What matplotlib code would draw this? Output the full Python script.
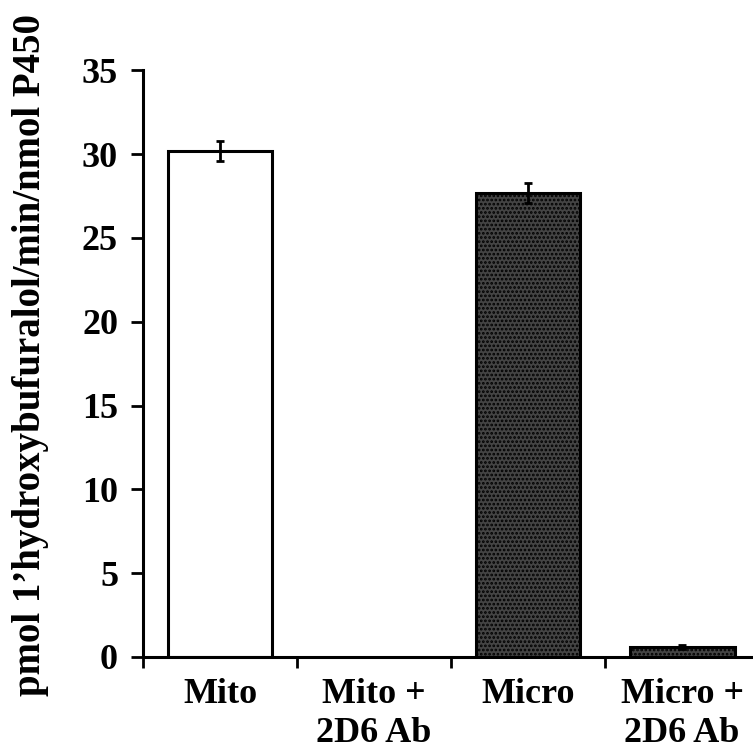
import matplotlib
matplotlib.use("Agg")
from matplotlib import pyplot as plt
import numpy as np

# data
categories = ["Mito", "Mito +\n2D6 Ab", "Micro", "Micro +\n2D6 Ab"]
rates = [30.2, 0.0, 27.7, 0.6]
errors = [0.6, 0.0, 0.6, 0.1]
y_ticks = [0, 5, 10, 15, 20, 25, 30, 35]

plt.rcParams['font.family'] = ['Liberation Serif', 'DejaVu Serif']
plt.rcParams['font.weight'] = 'bold'
plt.rcParams['hatch.linewidth'] = 1.3

fig = plt.figure(figsize=(7.53, 7.56), dpi=100)
ax = fig.add_axes([0.19, 0.131, 0.81, 0.776])

x = np.arange(len(categories))
face = ['white', 'white', '#444444', '#444444']
hatch = [None, None, '....', '....']
for i in x:
    if rates[i] <= 0:
        continue
    ax.bar(x[i], rates[i], width=0.68, color=face[i], edgecolor='black',
           linewidth=2.2, hatch=hatch[i], zorder=2)
    ax.errorbar(x[i], rates[i], yerr=errors[i], fmt='none', ecolor='black',
                elinewidth=2, capsize=3, capthick=2, zorder=3)

ax.set_xlim(-0.5, 3.46)
ax.set_ylim(0, 35)
ax.set_yticks(y_ticks)
ax.set_yticklabels([str(v) for v in y_ticks], fontsize=26, fontweight='bold')

# category ticks sit on the boundaries, labels in between
ax.set_xticks([-0.5, 0.5, 1.5, 2.5])
ax.set_xticklabels([])
ax.set_xticks(x, minor=True)
ax.set_xticklabels(categories, minor=True, fontsize=26, fontweight='bold',
                   linespacing=1.25, va='top')
ax.tick_params(axis='x', which='minor', length=0, pad=15)
ax.tick_params(axis='x', which='major', direction='out', length=8, width=2)
ax.tick_params(axis='y', direction='out', length=9, width=2, pad=9)

ax.spines['top'].set_visible(False)  # 去掉上边框
ax.spines['right'].set_visible(False)  # 去掉右边框
ax.spines['left'].set_linewidth(2.2)
ax.spines['bottom'].set_linewidth(2.2)

fig.text(0.04, 0.53, "pmol 1\u2019hydroxybufuralol/min/nmol P450", rotation=90,
         ha='center', va='center', fontsize=28, fontweight='bold')

fig.savefig("out.png", dpi=100)
plt.close()
